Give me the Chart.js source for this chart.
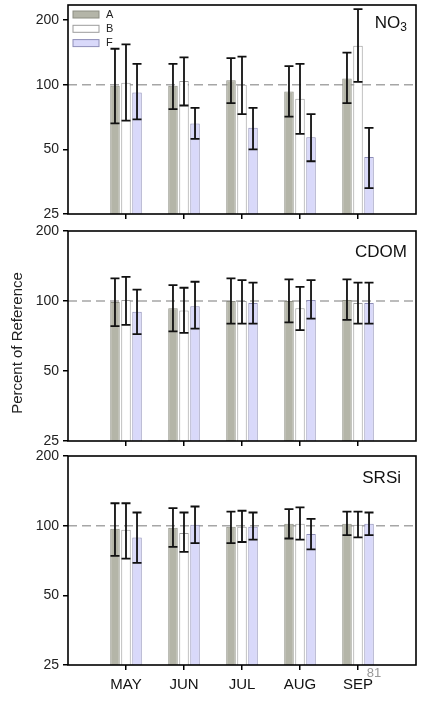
<!DOCTYPE html>
<html>
<head>
<meta charset="utf-8">
<script src="https://cdn.jsdelivr.net/npm/chart.js@4.4.0/dist/chart.umd.min.js"></script>
<style>
  html, body { margin: 0; padding: 0; background: #fff; }
  #wrap { position: relative; width: 432px; height: 701px; }
  .panel { position: absolute; left: 0; width: 432px; }
</style>
</head>
<body>
<div id="wrap">
  <div class="panel" style="top:0;height:222px"><canvas id="p1"></canvas></div>
  <div class="panel" style="top:222px;height:227px"><canvas id="p2"></canvas></div>
  <div class="panel" style="top:449px;height:252px"><canvas id="p3"></canvas></div>
</div>
<script>
// --- Data (percent of reference, log axis) ---
const months = ['MAY', 'JUN', 'JUL', 'AUG', 'SEP'];
const seriesNames = ['A', 'B', 'F'];
const yTicks = [25, 50, 100, 200];
const refLevel = 100;

// NO3
const no3A = [99, 99, 105, 93, 107];
const no3AHi = [147, 125, 133, 122, 141];
const no3ALo = [66, 77, 82, 71, 82];
const no3B = [102, 104, 100, 86, 152];
const no3BHi = [154, 134, 135, 125, 225];
const no3BLo = [68, 80, 73, 59, 103];
const no3F = [92, 66, 63, 57, 46];
const no3FHi = [125, 78, 78, 73, 63];
const no3FLo = [69, 56, 50, 44, 33];

// CDOM
const cdomA = [99, 93, 100, 100, 101];
const cdomAHi = [125, 117, 125, 124, 124];
const cdomALo = [78, 74, 80, 81, 83];
const cdomB = [101, 91, 100, 93, 98];
const cdomBHi = [127, 114, 123, 115, 120];
const cdomBLo = [79, 73, 80, 75, 80];
const cdomF = [90, 95, 98, 101, 98];
const cdomFHi = [112, 121, 120, 123, 120];
const cdomFLo = [72, 76, 80, 84, 80];

// SRSi
const srsiA = [97, 98, 99, 102, 102];
const srsiAHi = [125, 119, 115, 118, 115];
const srsiALo = [74, 81, 84, 88, 91];
const srsiB = [96, 93, 99, 102, 101];
const srsiBHi = [125, 114, 116, 120, 115];
const srsiBLo = [72, 77, 85, 87, 89];
const srsiF = [89, 101, 99, 92, 102];
const srsiFHi = [114, 121, 114, 107, 114];
const srsiFLo = [69, 84, 87, 79, 91];

// --- Styles ---
const FONT = '"Liberation Sans", Arial, sans-serif';
Chart.defaults.font.family = FONT;
Chart.defaults.color = '#222';
const fills = ['#b4b5a8', '#ffffff', '#d9d9fa'];
const edges = ['#8c8d82', '#9c9c9c', '#8e8eb8'];

// empty slots either side put the months on the right ticks
const labels = ['', ...months, ''];
const pad = arr => [null, ...arr, null];

// --- Plugins ---
const errorBars = {
  id: 'errorBars',
  afterDatasetsDraw(chart) {
    const ctx = chart.ctx, y = chart.scales.y;
    ctx.save();
    ctx.strokeStyle = '#111';
    ctx.lineWidth = 1.8;
    chart.data.datasets.forEach((ds, di) => {
      chart.getDatasetMeta(di).data.forEach((bar, i) => {
        if (ds.hi[i] == null) return;
        const top = y.getPixelForValue(ds.hi[i]);
        const bot = y.getPixelForValue(ds.lo[i]);
        ctx.beginPath();
        ctx.moveTo(bar.x, top); ctx.lineTo(bar.x, bot);
        ctx.moveTo(bar.x - 4.5, top); ctx.lineTo(bar.x + 4.5, top);
        ctx.moveTo(bar.x - 4.5, bot); ctx.lineTo(bar.x + 4.5, bot);
        ctx.stroke();
      });
    });
    ctx.restore();
  }
};

const deco = {
  id: 'deco',
  beforeDatasetsDraw(chart) {
    // dashed reference line
    const { ctx, chartArea: a } = chart;
    const yy = chart.scales.y.getPixelForValue(refLevel);
    ctx.save();
    ctx.strokeStyle = '#a6a6a6';
    ctx.lineWidth = 1.5;
    ctx.setLineDash([9, 5]);
    ctx.beginPath();
    ctx.moveTo(a.left, yy); ctx.lineTo(a.right, yy);
    ctx.stroke();
    ctx.restore();
  },
  afterDraw(chart, args, opts) {
    const { ctx, chartArea: a } = chart;
    ctx.save();
    // frame
    ctx.strokeStyle = '#000';
    ctx.lineWidth = 1.6;
    ctx.strokeRect(a.left, a.top, a.right - a.left, a.bottom - a.top);

    // panel name, top right
    ctx.fillStyle = '#111';
    ctx.textBaseline = 'middle';
    ctx.textAlign = 'right';
    let right = a.right - opts.nameRight;
    if (opts.sub) {
      ctx.font = '12px ' + FONT;
      ctx.fillText(opts.sub, right, a.top + opts.nameY + 5);
      right -= ctx.measureText(opts.sub).width;
    }
    ctx.font = '17px ' + FONT;
    ctx.fillText(opts.name, right, a.top + opts.nameY);

    // legend
    if (opts.legend) {
      ctx.font = '11px ' + FONT;
      ctx.textAlign = 'left';
      chart.data.datasets.forEach((ds, i) => {
        const ry = a.top + 9.5 + i * 14.3;
        ctx.fillStyle = ds.backgroundColor;
        ctx.fillRect(a.left + 5, ry - 3.5, 26, 7);
        ctx.strokeStyle = ds.borderColor;
        ctx.lineWidth = 1;
        ctx.strokeRect(a.left + 5, ry - 3.5, 26, 7);
        ctx.fillStyle = '#222';
        ctx.fillText(ds.label, a.left + 38, ry);
      });
    }

    // y axis title
    if (opts.yTitle) {
      ctx.translate(18, (a.top + a.bottom) / 2 + 7);
      ctx.rotate(-Math.PI / 2);
      ctx.textAlign = 'center';
      ctx.fillStyle = '#222';
      ctx.font = '15px ' + FONT;
      ctx.fillText(opts.yTitle, 0, 0);
      ctx.setTransform(1, 0, 0, 1, 0, 0);
      ctx.scale(chart.currentDevicePixelRatio, chart.currentDevicePixelRatio);
    }

    // page number
    if (opts.note) {
      ctx.font = '13px ' + FONT;
      ctx.fillStyle = '#999';
      ctx.textAlign = 'center';
      ctx.fillText(opts.note, 374, a.bottom + 8);
    }
    ctx.restore();
  }
};

function makePanel(id, vals, his, los, cfg) {
  const datasets = seriesNames.map((name, i) => ({
    label: name,
    data: pad(vals[i]),
    hi: pad(his[i]),
    lo: pad(los[i]),
    backgroundColor: fills[i],
    borderColor: edges[i],
    borderWidth: 1,
    categoryPercentage: 0.57,
    barPercentage: 0.86
  }));
  const edgeTick = c => (c.index === 0 || c.index === labels.length - 1) ? 'rgba(0,0,0,0)' : '#000';
  return new Chart(document.getElementById(id), {
    type: 'bar',
    data: { labels, datasets },
    options: {
      responsive: true,
      maintainAspectRatio: false,
      animation: false,
      layout: { padding: { top: cfg.top, right: 16, left: 0, bottom: 0 } },
      plugins: {
        legend: { display: false },
        tooltip: { enabled: false },
        deco: cfg.deco
      },
      scales: {
        x: {
          type: 'category',
          offset: false,
          grid: { offset: false, drawOnChartArea: false, drawTicks: true, tickLength: 5, color: edgeTick, lineWidth: 1.5 },
          border: { display: false },
          ticks: { display: cfg.showMonths, padding: 6, maxRotation: 0, autoSkip: false, color: '#111', font: { size: 15 } },
          afterFit: s => { s.height = cfg.xHeight; s.paddingLeft = 0; s.paddingRight = 0; }
        },
        y: {
          type: 'logarithmic',
          min: 25,
          max: cfg.max,
          grid: { drawOnChartArea: false, drawTicks: true, tickLength: 5, color: '#000', lineWidth: 1.5 },
          border: { display: false },
          ticks: { padding: 4, color: '#222', font: { size: 14 }, callback: v => String(v) },
          afterBuildTicks: s => { s.ticks = yTicks.map(v => ({ value: v })); },
          afterFit: s => { s.width = 68; s.paddingTop = 0; s.paddingBottom = 0; }
        }
      }
    },
    plugins: [deco, errorBars]
  });
}

makePanel('p1', [no3A, no3B, no3F], [no3AHi, no3BHi, no3FHi], [no3ALo, no3BLo, no3FLo], {
  top: 5, max: 235, xHeight: 8, showMonths: false,
  deco: { name: 'NO', sub: '3', nameRight: 9, nameY: 18, legend: true }
});
makePanel('p2', [cdomA, cdomB, cdomF], [cdomAHi, cdomBHi, cdomFHi], [cdomALo, cdomBLo, cdomFLo], {
  top: 9, max: 200, xHeight: 8, showMonths: false,
  deco: { name: 'CDOM', nameRight: 9, nameY: 21, yTitle: 'Percent of Reference' }
});
makePanel('p3', [srsiA, srsiB, srsiF], [srsiAHi, srsiBHi, srsiFHi], [srsiALo, srsiBLo, srsiFLo], {
  top: 7, max: 200, xHeight: 36, showMonths: true,
  deco: { name: 'SRSi', nameRight: 15, nameY: 22, note: '81' }
});
</script>
</body>
</html>
